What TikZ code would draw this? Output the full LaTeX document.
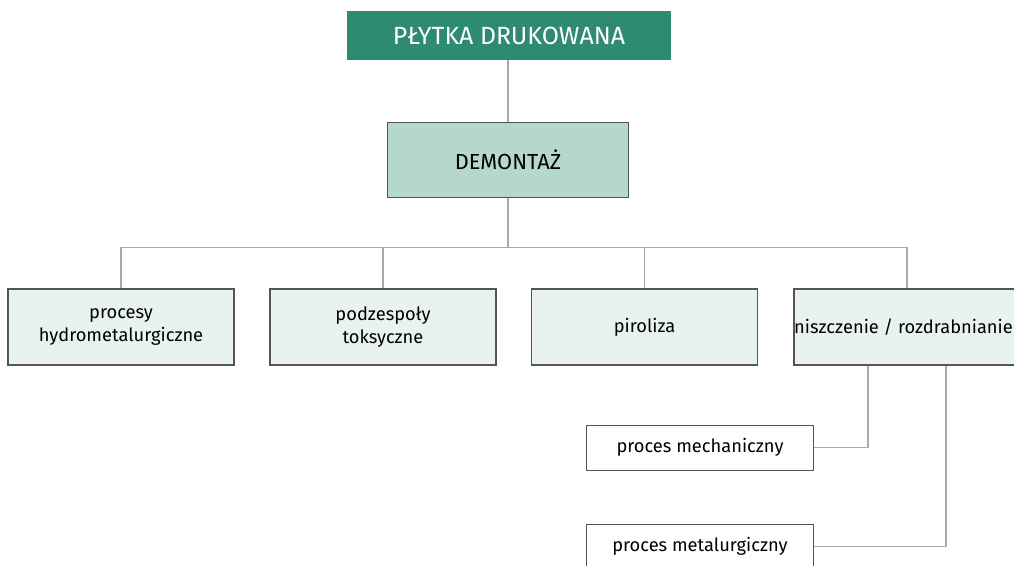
\documentclass[tikz,border=0pt]{standalone}
\usepackage{fontspec}
\setmainfont{Fira Sans}
\definecolor{darkteal}{RGB}{46,138,112}
\definecolor{midteal}{RGB}{181,216,202}
\definecolor{paleteal}{RGB}{233,243,237}
\definecolor{boxline}{RGB}{85,85,85}
\definecolor{conline}{RGB}{170,170,170}
\begin{document}
\begin{tikzpicture}[x=0.025cm, y=-0.025cm,
    every text node part/.style={align=center},
    topbox/.style={fill=darkteal, text=white, minimum width=8.1cm,
        minimum height=1.225cm, inner sep=0pt, font=\fontsize{17.7}{20}\selectfont},
    mainbox/.style={draw=boxline, line width=0.9pt, fill=midteal,
        minimum width=6.025cm, minimum height=1.875cm, inner sep=0pt,
        font=\fontsize{15.5}{18}\selectfont},
    stepbox/.style={draw=boxline, line width=0.9pt, fill=paleteal,
        minimum width=5.65cm, minimum height=1.9cm, inner sep=0pt,
        font=\fontsize{13}{16.3}\selectfont},
    procbox/.style={draw=boxline, line width=0.7pt, fill=white,
        minimum width=5.65cm, minimum height=1.125cm, inner sep=0pt,
        font=\fontsize{13}{16.3}\selectfont},
    conn/.style={draw=conline, line width=0.8pt}]
\useasboundingbox (0,0) rectangle (1014,566);

%Ebene 1
    \node[topbox] (plytka) at (509,35.5) {PŁYTKA DRUKOWANA};
    \node[mainbox] (demontaz) at (508,160) {DEMONTAŻ};

%Ebene 2
    \node[stepbox] (hydro) at (121,327) {procesy\\hydrometalurgiczne};
    \node[stepbox] (toks) at (383,327) {podzespoły\\toksyczne};
    \node[stepbox] (piro) at (644.5,327) {piroliza};
    \node[stepbox] (niszcz) at (907,327) {niszczenie / rozdrabnianie\hspace*{5pt}};

%Ebene 3
    \node[procbox] (mech) at (700,447.5) {proces mechaniczny};
    \node[procbox] (metal) at (700,546.5) {proces metalurgiczny};

%Verbindungen
    \draw[conn] (demontaz.north) -- (demontaz.north |- plytka.south);
    \foreach \n in {hydro,toks,piro,niszcz}{
        \draw[conn] (demontaz.south) -- ++(0,49) -| (\n.north);}
    \draw[conn] (mech.east) -| ([xshift=-0.975cm]niszcz.south);
    \draw[conn] (metal.east) -| ([xshift=0.975cm]niszcz.south);

\end{tikzpicture}
\end{document}
